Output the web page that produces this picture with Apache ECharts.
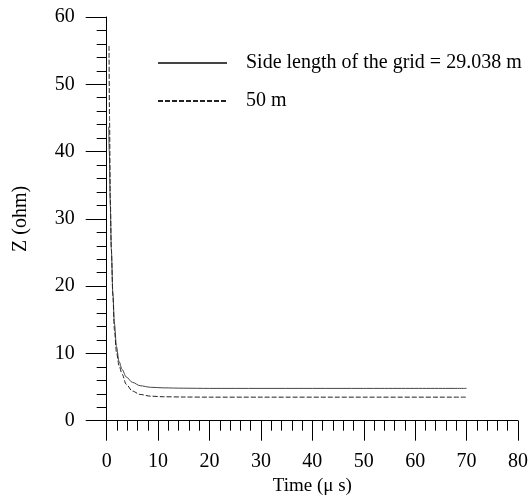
<!DOCTYPE html>
<html>
<head>
<meta charset="utf-8">
<script src="https://cdn.jsdelivr.net/npm/echarts@6/dist/echarts.min.js"></script>
<style>
  html, body { margin: 0; padding: 0; background: #fff; }
  #main { width: 529px; height: 495px; }
</style>
</head>
<body>
<div id="main"></div>
<script>
// series names
var names = ['Side length of the grid = 29.038 m', '50 m'];

// time (us) and Z (ohm)
var timeA = [0.4, 0.5, 0.7, 0.9, 1.2, 1.5, 1.9, 2.4, 3.0, 3.8, 5.0, 6.5, 8.5, 11, 15, 20, 30, 50, 70];
var zA = [43.7, 40, 32, 25.5, 19, 14.5, 11, 8.8, 7.6, 6.5, 5.7, 5.2, 4.97, 4.88, 4.83, 4.8, 4.8, 4.8, 4.8];

var timeB = [0.45, 0.55, 0.7, 0.9, 1.2, 1.5, 1.9, 2.4, 3.0, 3.8, 5.0, 6.5, 8.5, 11, 15, 20, 30, 50, 70];
var zB = [55.7, 45, 33, 25.5, 18.5, 13.5, 10.2, 8.2, 6.9, 5.4, 4.4, 3.9, 3.65, 3.56, 3.52, 3.5, 3.5, 3.5, 3.5];

function pairs(xs, ys) {
  var out = [];
  for (var i = 0; i < xs.length; i++) out.push([xs[i], ys[i]]);
  return out;
}

var font = 'Liberation Serif, Times New Roman, serif';
var chart = echarts.init(document.getElementById('main'));

var option = {
  animation: false,
  textStyle: { fontFamily: font, color: '#000' },
  grid: { left: 106.7, top: 17, right: 11, bottom: 74.3, containLabel: false, outerBoundsMode: 'none' },
  legend: {
    orient: 'vertical',
    left: 152,
    top: 48,
    itemWidth: 69,
    itemHeight: 20,
    itemGap: 18,
    itemStyle: { opacity: 0, borderWidth: 0 },
    textStyle: { fontFamily: font, fontSize: 20, color: '#000', padding: [0, 0, 0, 14] },
    data: names
  },
  xAxis: {
    type: 'value',
    min: 0, max: 80, interval: 10,
    name: 'Time (\u03bc s)',
    nameLocation: 'middle',
    nameGap: 55,
    nameTextStyle: { fontFamily: font, fontSize: 19, color: '#000' },
    axisLine: { onZero: false, lineStyle: { color: '#000', width: 1 } },
    axisTick: { length: 20, lineStyle: { color: '#000' } },
    minorTick: { show: true, splitNumber: 5, length: 10, lineStyle: { color: '#000' } },
    axisLabel: { margin: 31, fontSize: 20, color: '#000', fontFamily: font },
    splitLine: { show: false }
  },
  yAxis: {
    type: 'value',
    min: 0, max: 60, interval: 10,
    name: 'Z (ohm)',
    nameLocation: 'middle',
    nameGap: 76,
    nameRotate: 90,
    nameTextStyle: { fontFamily: font, fontSize: 20, color: '#000' },
    axisLine: { show: true, onZero: false, lineStyle: { color: '#000', width: 1 } },
    axisTick: { show: true, length: 21, lineStyle: { color: '#000' } },
    minorTick: { show: true, splitNumber: 5, length: 10, lineStyle: { color: '#000' } },
    axisLabel: { margin: 32, fontSize: 20, color: '#000', fontFamily: font },
    splitLine: { show: false }
  },
  series: [
    {
      name: names[0],
      type: 'line',
      symbol: 'none',
      smooth: 0.3,
      smoothMonotone: 'x',
      lineStyle: { color: '#444', width: 1, type: 'solid' },
      itemStyle: { color: '#444' },
      data: pairs(timeA, zA)
    },
    {
      name: names[1],
      type: 'line',
      symbol: 'none',
      smooth: 0.3,
      smoothMonotone: 'x',
      lineStyle: { color: '#222', width: 1, type: [5, 2] },
      itemStyle: { color: '#222' },
      data: pairs(timeB, zB)
    }
  ]
};

chart.setOption(option);
</script>
</body>
</html>
